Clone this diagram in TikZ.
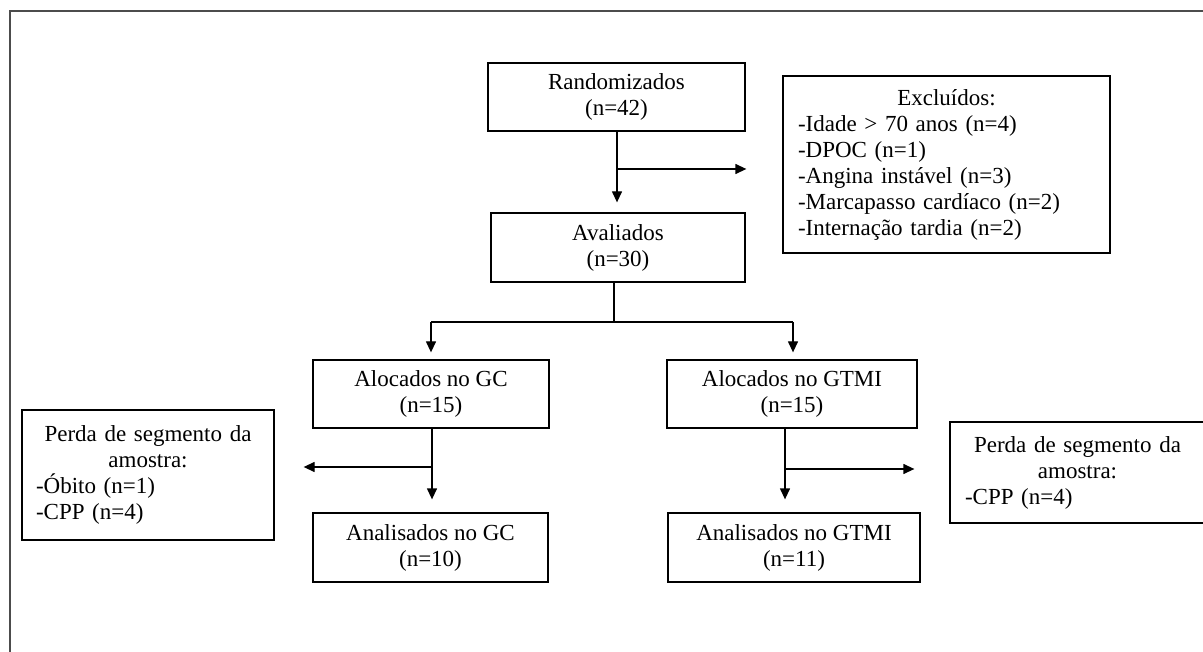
\documentclass[tikz,border=0pt]{standalone}
\usepackage{fontspec}
\setmainfont{Liberation Serif}
\usetikzlibrary{arrows.meta}
\newcommand{\ctr}[1]{\makebox[\linewidth][c]{#1}}

\begin{document}
\begin{tikzpicture}[x=1pt,y=-1pt,
    caixa/.style ={draw, line width=1.3pt, inner sep=0pt, align=center,
                   font=\fontsize{23}{26}\selectfont},
    lista/.style ={caixa, align=left, inner xsep=15pt, text width=#1},
    seta/.style ={-{Triangle[length=11pt,width=10pt]}, line width=1.3pt},
    liga/.style ={line width=1.3pt},
    moldura/.style ={draw=black!70, line width=2pt}]
   \useasboundingbox (0,0) rectangle (1203,652);
   \draw[moldura] (1203,11) -- (10,11) -- (10,652);

   \node[caixa, minimum width=257pt, minimum height=68pt] (rand) at (616.5,97)
        {Randomizados\\(n=42)};
   \node[lista=297pt, minimum height=177pt] (excl) at (946.5,164.5)
        {\ctr{Excluídos:}\\-Idade > 70 anos (n=4)\\-DPOC (n=1)\\-Angina instável (n=3)\\
         -Marcapasso cardíaco (n=2)\\-Internação tardia (n=2)};
   \node[caixa, minimum width=254pt, minimum height=69pt] (aval) at (618,247.5)
        {Avaliados\\(n=30)};
   \node[caixa, minimum width=236pt, minimum height=68pt] (algc) at (431,394)
        {Alocados no GC\\(n=15)};
   \node[caixa, minimum width=250pt, minimum height=68pt] (algtmi) at (792,394)
        {Alocados no GTMI\\(n=15)};
   \node[lista=224pt, inner xsep=14pt, minimum height=130pt] (perdagc) at (148,475)
        {\ctr{Perda de segmento da}\\\ctr{amostra:}\\-Óbito (n=1)\\-CPP (n=4)};
   \node[lista=225pt, minimum height=101pt] (perdagtmi) at (1077.5,472.5)
        {\ctr{Perda de segmento da}\\\ctr{amostra:}\\-CPP (n=4)};
   \node[caixa, minimum width=235pt, minimum height=69pt] (angc) at (430.5,547.5)
        {Analisados no GC\\(n=10)};
   \node[caixa, minimum width=252pt, minimum height=69pt] (angtmi) at (794,547.5)
        {Analisados no GTMI\\(n=11)};

   % randomizados -> avaliados / excluidos
   \coordinate (kr) at (617,169);
   \draw[seta] (rand.south -| kr) -- ([yshift=10pt]aval.north -| kr);
   \draw[seta] (kr) -- ([xshift=-36pt]excl.west |- kr);

   % avaliados -> grupos
   \coordinate (ka) at (614,322);
   \coordinate (kgc) at (431,322);
   \coordinate (kgt) at (793,322);
   \draw[liga] (aval.south -| ka) -- (ka);
   \draw[liga] (kgc) -- (kgt);
   \draw[seta] (kgc) -- ([yshift=7pt]algc.north -| kgc);
   \draw[seta] (kgt) -- ([yshift=7pt]algtmi.north -| kgt);

   % GC
   \coordinate (kc) at (432,467);
   \draw[seta] (algc.south -| kc) -- ([yshift=13pt]angc.north -| kc);
   \draw[seta] (kc) -- ([xshift=29pt]perdagc.east |- kc);

   % GTMI
   \coordinate (kt) at (785,469);
   \draw[seta] (algtmi.south -| kt) -- ([yshift=13pt]angtmi.north -| kt);
   \draw[seta] (kt) -- ([xshift=-35pt]perdagtmi.west |- kt);
 \end{tikzpicture}
\end{document}
